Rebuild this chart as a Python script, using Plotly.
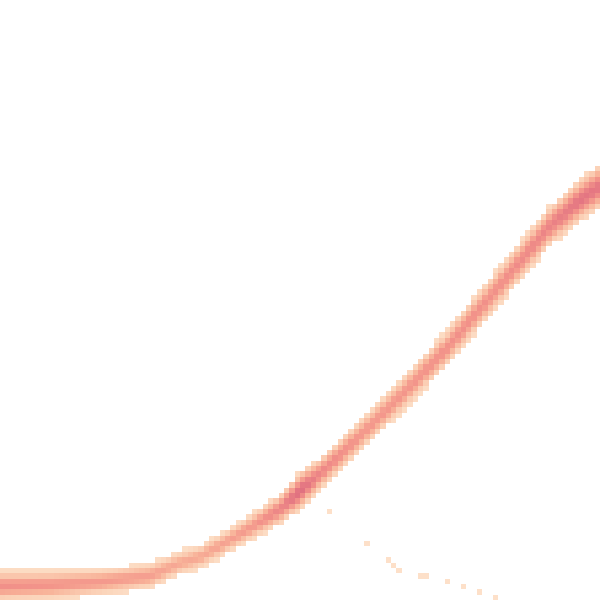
import numpy as np
import plotly.graph_objects as go

# Centerline of the dense band (pixel-like data units, y grows downward)
curve_x = [0, 50, 100, 150, 180, 200, 230, 250, 280, 300, 320, 365, 400, 447, 500, 550, 580, 600]
curve_y = [586, 585, 582, 576, 563, 557, 540, 528, 509, 491, 474, 431, 397, 348, 285, 226, 200, 186]
curve_halfwidth = [15, 14, 13, 13, 12, 12, 12, 13, 15, 19, 16, 16, 17, 18, 19, 20, 21, 22]
curve_peak = [0.68, 0.66, 0.62, 0.58, 0.52, 0.52, 0.58, 0.62, 0.75, 0.92, 0.74, 0.64, 0.64, 0.68, 0.68, 0.76, 0.86, 0.84]

# Sparse faint cells of the lower branch
dots_x = [327, 365, 386, 392, 400, 420, 428, 448, 464, 481, 495, 79]
dots_y = [510, 543, 560, 565, 570, 575, 575, 581, 586, 592, 598, 597]
dots_v = [0.06] * len(dots_x)

N = 112
cell = 600 / N
xc = (np.arange(N) + 0.5) * cell
yc = (np.arange(N) + 0.5) * cell

z = np.full((N, N), np.nan)
cy_line = np.interp(xc, curve_x, curve_y)
hw_line = np.interp(xc, curve_x, curve_halfwidth)
pk_line = np.interp(xc, curve_x, curve_peak)
for j in range(N):
    d = (yc - cy_line[j]) / hw_line[j]
    v = pk_line[j] * np.exp(-1.6 * d ** 2)
    mask = np.abs(d) <= 1.05
    z[mask, j] = v[mask]

for x, y, v in zip(dots_x, dots_y, dots_v):
    j = min(int(x / cell), N - 1)
    i = min(int(y / cell), N - 1)
    if np.isnan(z[i, j]):
        z[i, j] = v

colorscale = [
    [0.0, "rgb(253,229,206)"],
    [0.25, "rgb(251,210,184)"],
    [0.45, "rgb(248,180,154)"],
    [0.65, "rgb(243,148,138)"],
    [0.85, "rgb(228,118,130)"],
    [1.0, "rgb(210,96,120)"],
]

fig = go.Figure(go.Heatmap(
    x=xc, y=yc, z=z, zmin=0, zmax=1, colorscale=colorscale,
    showscale=False, zsmooth=False, hoverongaps=False,
))
fig.update_layout(
    width=600, height=600, margin=dict(l=0, r=0, t=0, b=0),
    paper_bgcolor="white", plot_bgcolor="white",
    xaxis=dict(range=[0, 600], visible=False, showgrid=False),
    yaxis=dict(range=[600, 0], visible=False, showgrid=False),
)
fig.write_html(
    "out.html",
    config={"displayModeBar": False},
    post_script="document.body.style.margin='0';document.body.style.overflow='hidden';",
)
